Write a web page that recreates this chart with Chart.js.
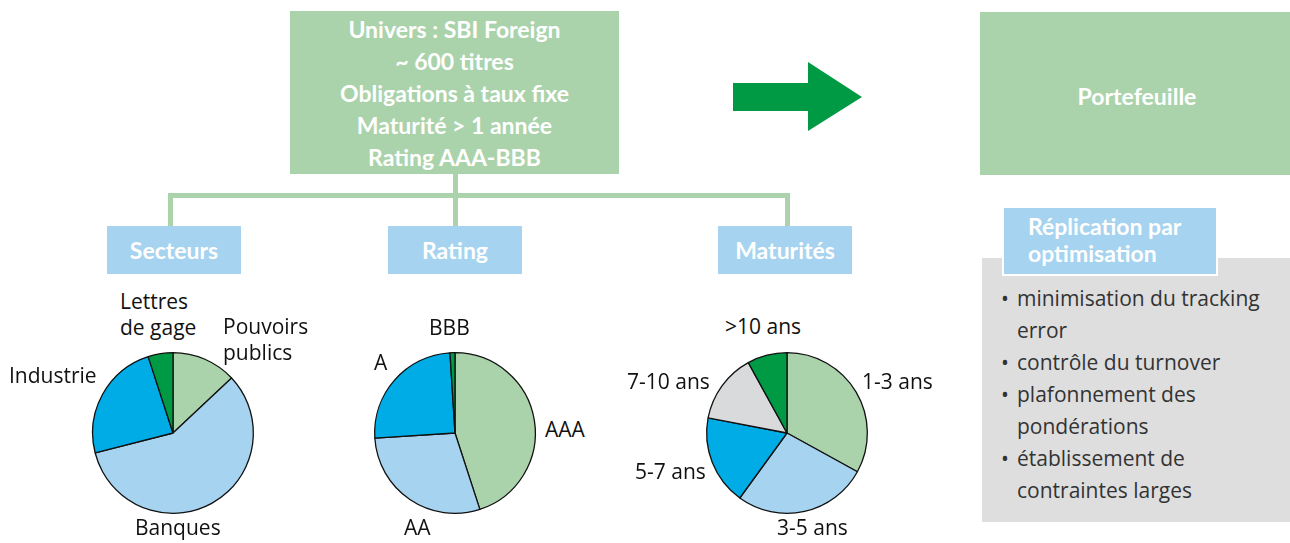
<!DOCTYPE html>
<html>
<head>
<meta charset="utf-8">
<script src="https://cdn.jsdelivr.net/npm/chart.js@4.4.0/dist/chart.umd.min.js"></script>
<style>
  html, body { margin:0; padding:0; background:#fff; }
  body { width:1290px; height:543px; position:relative; overflow:hidden; font-family:"Open Sans", "DejaVu Sans", sans-serif; }
  .abs { position:absolute; }
  .green { background:#abd3ab; }
  .blue { background:#a6d3ef; }
  .hdr { color:#fff; font-family:"Lato","Open Sans",sans-serif; font-weight:700; font-size:23px; text-align:center; }
  .lbl { position:absolute; font-size:21px; color:#111; white-space:nowrap; line-height:26px; }
  .line { position:absolute; background:#abd3ab; }
  .bul { position:absolute; left:1017px; font-size:21px; color:#333; line-height:32px; white-space:nowrap; }
  .dot { position:absolute; left:1001px; font-size:21px; color:#333; line-height:32px; }
  canvas { position:absolute; }
</style>
</head>
<body>
<!-- top box -->
<div class="abs green hdr" style="left:290px;top:11px;width:329px;height:163px;line-height:32px;padding-top:2px;box-sizing:border-box;">
Univers : SBI Foreign<br>~ 600 titres<br>Obligations à taux fixe<br>Maturité &gt; 1 année<br>Rating AAA-BBB
</div>
<!-- connectors -->
<div class="line" style="left:453px;top:174px;width:5px;height:52px;"></div>
<div class="line" style="left:168px;top:193px;width:622px;height:5px;"></div>
<div class="line" style="left:168px;top:193px;width:5px;height:33px;"></div>
<div class="line" style="left:785px;top:193px;width:5px;height:33px;"></div>
<!-- category boxes -->
<div class="abs blue hdr" style="left:107px;top:226px;width:134px;height:48px;line-height:48px;">Secteurs</div>
<div class="abs blue hdr" style="left:388px;top:226px;width:134px;height:48px;line-height:48px;">Rating</div>
<div class="abs blue hdr" style="left:718px;top:226px;width:134px;height:48px;line-height:48px;">Maturités</div>
<!-- arrow -->
<svg class="abs" style="left:730px;top:60px;" width="140" height="75">
  <polygon points="3,23 78,23 78,2 132,37 78,71 78,51 3,51" fill="#009a44"/>
</svg>
<!-- portefeuille -->
<div class="abs green" style="left:980px;top:12px;width:310px;height:163px;"></div>
<div class="abs hdr" style="left:1037px;top:12px;width:200px;height:168px;line-height:168px;font-size:23px;">Portefeuille</div>
<!-- grey box -->
<div class="abs" style="left:982px;top:258px;width:308px;height:264px;background:#dedede;"></div>
<div class="abs blue hdr" style="left:1002px;top:206px;width:216px;height:70px;border:2px solid #fff;box-sizing:border-box;text-align:left;padding-left:24px;padding-top:5px;line-height:27px;font-size:23px;">Réplication par<br>optimisation</div>
<div class="dot" style="top:282px;">•</div><div class="bul" style="top:282px;">minimisation du tracking</div>
<div class="bul" style="top:314px;">error</div>
<div class="dot" style="top:346px;">•</div><div class="bul" style="top:346px;">contrôle du turnover</div>
<div class="dot" style="top:378px;">•</div><div class="bul" style="top:378px;">plafonnement des</div>
<div class="bul" style="top:410px;">pondérations</div>
<div class="dot" style="top:442px;">•</div><div class="bul" style="top:442px;">établissement de</div>
<div class="bul" style="top:474px;">contraintes larges</div>

<!-- pie canvases -->
<canvas id="c1" width="170" height="170" style="left:88px;top:348px;"></canvas>
<canvas id="c2" width="170" height="170" style="left:370px;top:348px;"></canvas>
<canvas id="c3" width="170" height="170" style="left:702px;top:348px;"></canvas>

<!-- pie labels -->
<div class="lbl" style="left:120px;top:288px;">Lettres<br>de gage</div>
<div class="lbl" style="left:223px;top:313px;">Pouvoirs<br>publics</div>
<div class="lbl" style="left:9px;top:362px;">Industrie</div>
<div class="lbl" style="left:135px;top:514px;">Banques</div>

<div class="lbl" style="left:429px;top:314px;">BBB</div>
<div class="lbl" style="left:374px;top:349px;">A</div>
<div class="lbl" style="left:545px;top:416px;">AAA</div>
<div class="lbl" style="left:404px;top:514px;">AA</div>

<div class="lbl" style="left:725px;top:313px;">&gt;10 ans</div>
<div class="lbl" style="left:862px;top:368px;">1-3 ans</div>
<div class="lbl" style="left:627px;top:368px;">7-10 ans</div>
<div class="lbl" style="left:635px;top:458px;">5-7 ans</div>
<div class="lbl" style="left:777px;top:514px;">3-5 ans</div>

<script>
// Data
const sectorLabels = ["Pouvoirs publics", "Banques", "Industrie", "Lettres de gage"];
const sectorValues = [13, 58, 24, 5];
const ratingLabels = ["AAA", "AA", "A", "BBB"];
const ratingValues = [45, 29, 25, 1];
const maturityLabels = ["1-3 ans", "3-5 ans", "5-7 ans", "7-10 ans", ">10 ans"];
const maturityValues = [33, 27, 18, 14, 8];

// Styles
const sectorColors = ["#abd3ab", "#a6d3ef", "#00ace6", "#009a44"];
const ratingColors = ["#abd3ab", "#a6d3ef", "#00ace6", "#009a44"];
const maturityColors = ["#abd3ab", "#a6d3ef", "#00ace6", "#d9dadb", "#009a44"];

function makePie(id, labels, values, colors) {
  new Chart(document.getElementById(id), {
    type: 'pie',
    data: { labels: labels, datasets: [{ data: values, backgroundColor: colors, borderColor: '#111', borderWidth: 1.3 }] },
    options: {
      responsive: false,
      animation: false,
      layout: { padding: 4 },
      plugins: { legend: { display: false }, tooltip: { enabled: false } }
    }
  });
}
makePie('c1', sectorLabels, sectorValues, sectorColors);
makePie('c2', ratingLabels, ratingValues, ratingColors);
makePie('c3', maturityLabels, maturityValues, maturityColors);
</script>
</body>
</html>
